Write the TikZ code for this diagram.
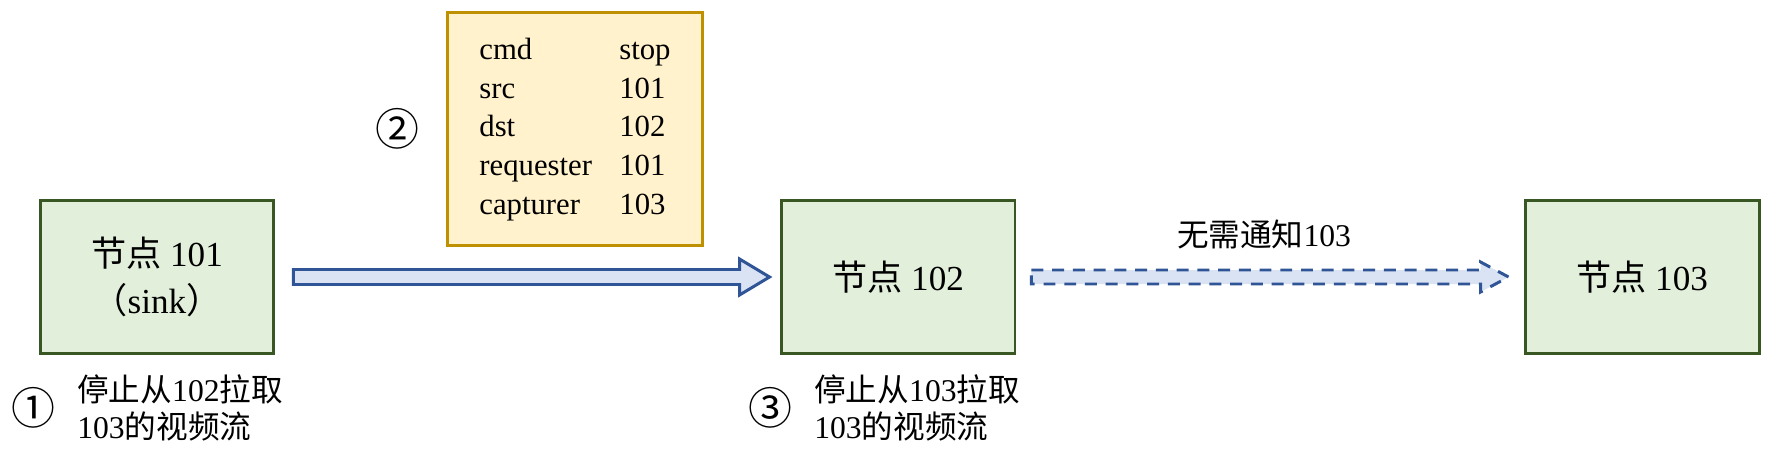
\documentclass[tikz,border=0pt]{standalone}
\usepackage{fontspec}
\setmainfont{Liberation Serif}
\newfontfamily\zhfont{Noto Sans CJK SC}
\newcommand{\zh}[1]{{\zhfont #1}}
\usetikzlibrary{positioning, calc}
\definecolor{peerfill}{HTML}{E2EFDA}
\definecolor{peerline}{HTML}{385723}
\definecolor{msgfill}{HTML}{FFF2CC}
\definecolor{msgline}{HTML}{BF9000}
\definecolor{pipefill}{HTML}{DAE3F3}
\definecolor{pipeline}{HTML}{2F5597}

\begin{document}
\begin{tikzpicture}[
    x=0.02cm, y=-0.02cm,
    peer/.style={
        rectangle, fill=peerfill, draw=peerline,
        line width=1.7pt, minimum width=4.68cm, minimum height=3.08cm,
        font=\fontsize{20}{27}\selectfont, align=center, inner sep=0pt,
    },
    msg/.style={
        rectangle, fill=msgfill, draw=msgline,
        line width=1.7pt, minimum width=5.12cm, minimum height=4.68cm,
        font=\fontsize{17.5}{22}\selectfont, inner sep=0pt,
    },
    note/.style={font=\fontsize{18}{21}\selectfont, align=left, inner sep=0pt},
    stepnum/.style={font=\zhfont\fontsize{25}{25}\selectfont, inner sep=0pt},
    pipe/.style={fill=pipefill, draw=pipeline, line width=1.7pt, line join=miter},
    dashpipe/.style={pipe, dash pattern=on 6.8pt off 5pt},
]
\useasboundingbox (0,0) rectangle (1773,456);

% --- Peers ---
\node[peer] (n101) at (157,277) {\zh{节点} 101\\\zh{（}sink\zh{）}};
\node[peer] (n102) at (898,277) {\zh{节点} 102};
\node[peer] (n103) at (1642,277) {\zh{节点} 103};

% --- Stop message ---
\node[msg] (stopmsg) at (575,129) {%
    \begin{tabular}{@{}p{2.8cm}@{}l@{}}
    cmd       & stop\\
    src       & 101\\
    dst       & 102\\
    requester & 101\\
    capturer  & 103
    \end{tabular}};
\node[stepnum, left=0.52cm of stopmsg] (two) {②};

% --- Notes under peers ---
\node[note, anchor=west] (note1) at (77,408)
    {\zh{停止从}102\zh{拉取}\\103\zh{的视频流}};
\node[stepnum, left=0.42cm of note1] (one) {①};
\node[note, anchor=west] (note3) at (814,408)
    {\zh{停止从}103\zh{拉取}\\103\zh{的视频流}};
\node[stepnum, left=0.42cm of note3] (three) {③};

% --- 101 -> 102 ---
\coordinate (s1) at ($(n101.east)+(18,0)$);
\coordinate (t1) at ($(n102.west)+(-10,0)$);
\draw[pipe] ($(s1)+(0,-7.5)$) -- ($(t1)+(-30,-7.5)$) -- ($(t1)+(-30,-18)$)
    -- (t1) -- ($(t1)+(-30,18)$) -- ($(t1)+(-30,7.5)$) -- ($(s1)+(0,7.5)$) -- cycle;

% --- 102 -> 103, not sent ---
\coordinate (s2) at ($(n102.east)+(15,0)$);
\coordinate (t2) at ($(n103.west)+(-15,0)$);
\draw[dashpipe] ($(s2)+(0,-7)$) -- ($(t2)+(-28,-7)$) -- ($(t2)+(-28,-15)$)
    -- (t2) -- ($(t2)+(-28,15)$) -- ($(t2)+(-28,7)$) -- ($(s2)+(0,7)$) -- cycle;
\node[note] (skip) at ($(s2)!0.5!(t2)+(-6,-43)$) {\zh{无需通知}103};

\end{tikzpicture}
\end{document}
